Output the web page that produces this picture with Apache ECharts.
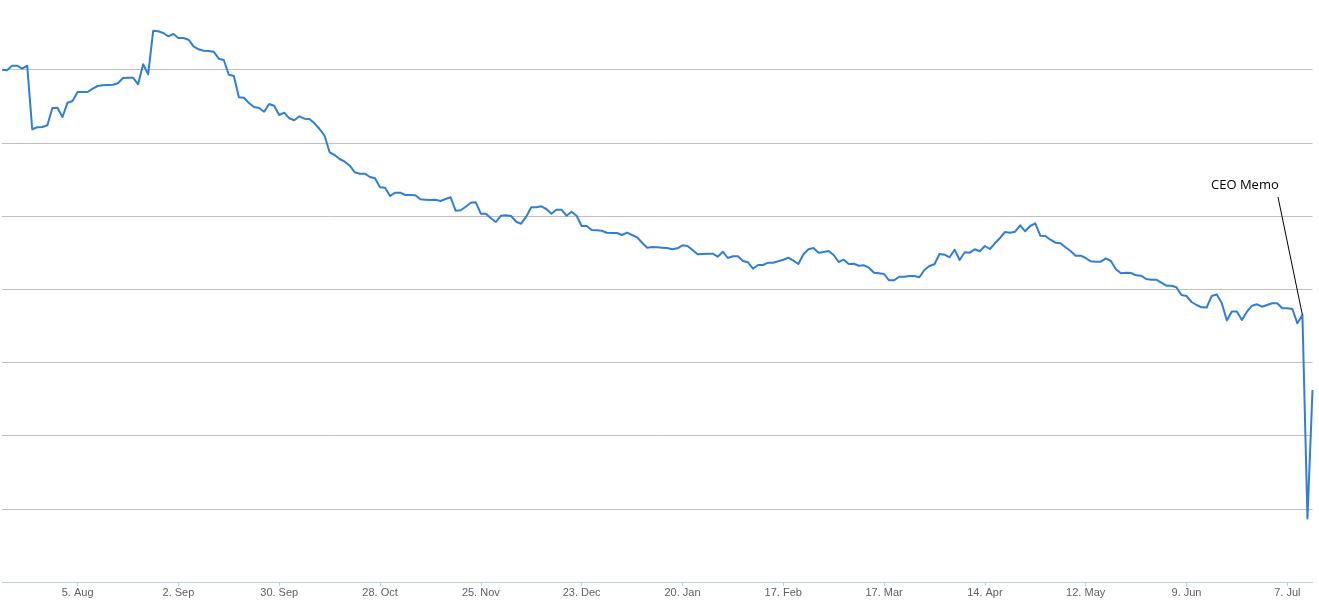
<!DOCTYPE html>
<html>
<head>
<meta charset="utf-8">
<script src="https://cdn.jsdelivr.net/npm/echarts@6/dist/echarts.min.js"></script>
<style>
html,body{margin:0;padding:0;background:#fff;}
#chart{width:1319px;height:603px;}
</style>
</head>
<body>
<div id="chart"></div>
<script>
// Trading days (weekdays) from 15 Jul 2013, evenly spaced (ordinal axis)
const START_DATE = [2013, 6, 15];
const MONTHS = ['Jan','Feb','Mar','Apr','May','Jun','Jul','Aug','Sep','Oct','Nov','Dec'];
const TICK_LABELS = ['5. Aug','2. Sep','30. Sep','28. Oct','25. Nov','23. Dec','20. Jan','17. Feb','17. Mar','14. Apr','12. May','9. Jun','7. Jul'];

// Series values (arbitrary units; the original has no y-axis labels)
const values = [
512.3,511.7,516.3,516.3,513.3,516.3,452.7,454.7,455,456.7,
474,474.3,465,479.3,481,490,490,490,493.3,496,
496.7,497,497.3,498.7,504,504.3,504.3,497.7,517.7,507.7,
551.3,550.7,549,545.7,548,544,544,542.3,535.7,532.7,
531.3,531,530.3,523.3,522,507.3,506,484.7,484.3,479,
475,474,470.3,478,476.3,467,469.3,463.7,461.7,465.7,
463.3,463,458.7,453,446.3,429.7,427,423,420.3,416.3,
409.7,408.3,408.3,405,403.7,394.7,394.3,386,389.3,389.3,
387,387,386.7,382.7,382.3,382,382.3,381,383,384.7,
371.3,371.7,375.3,379.3,379.7,368.3,368.3,363.7,360,366.3,
366.7,366,360.3,358.3,365.3,374.7,374.7,375.7,373,368.3,
372.3,372.3,366.3,370.3,366.3,356,356,352,351.7,351.3,
349.3,349,349,347,349.3,347,344.7,339.3,334.3,335,
334.7,334.3,334,332.7,333.7,336.7,336,332,327.7,328,
328.3,328.3,325.3,330.3,324,325.7,325.7,321,319.7,313.3,
317,317,319.3,319.3,320.7,322.3,324.3,321.3,318,327.7,
332.7,334,329.3,330,331,327,320,322.3,318,318.3,
316.3,316.7,314.3,309.3,308.7,308,301.7,301.7,305.3,305.3,
306,306,304.7,312,316,317.7,328,327.3,324.7,332.3,
322,329.7,329.3,332.7,330.7,336,333,338.7,344,350,
349.3,350.3,356.7,350.7,356,358.7,346.3,346,342.3,339.3,
338.7,334.7,331,326.3,326.3,324,320.7,320.3,320.3,323.7,
321,312.7,308.7,309.3,309,306.7,306.3,303,302.3,302.3,
299.3,296.3,296.3,294.7,287,286,280,277,274.7,274.5,
286,287.5,279,261.5,270.5,270.5,262,270.3,276.3,277.7,
275.3,277,278.7,278.7,273.7,273.7,273,258.7,267,63.5,
192
];

const ANNOTATION_TEXT = 'CEO Memo';
const ANNOTATION_INDEX = 258; // 10 Jul 2014

const categories = [];
{
  const d = new Date(Date.UTC(START_DATE[0], START_DATE[1], START_DATE[2]));
  while (categories.length < values.length) {
    const wd = d.getUTCDay();
    if (wd !== 0 && wd !== 6) categories.push(d.getUTCDate() + '. ' + MONTHS[d.getUTCMonth()]);
    d.setUTCDate(d.getUTCDate() + 1);
  }
}
const showTick = (i, v) => TICK_LABELS.indexOf(categories[i]) >= 0;

const chart = echarts.init(document.getElementById('chart'), null, {renderer: 'canvas'});
chart.setOption({
  animation: false,
  backgroundColor: '#ffffff',
  grid: {left: 2, right: 6.5, top: 0, bottom: 21, containLabel: false},
  xAxis: {
    type: 'category',
    data: categories,
    boundaryGap: false,
    z: 3,
    axisLine: {show: true, lineStyle: {color: '#C0D0E0', width: 1}},
    axisTick: {show: true, interval: showTick, length: 4, lineStyle: {color: '#C0D0E0'}},
    axisLabel: {interval: showTick, color: '#606060', fontSize: 11, fontFamily: '"Liberation Sans", Arial, sans-serif', margin: 5},
    splitLine: {show: false}
  },
  yAxis: {
    type: 'value',
    min: 0,
    max: 582,
    interval: 73.2,
    axisLine: {show: false},
    axisTick: {show: false},
    axisLabel: {show: false},
    splitLine: {show: true, showMaxLine: false, lineStyle: {color: '#C0C0C0', width: 1}}
  },
  series: [{
    type: 'line',
    data: values,
    showSymbol: false,
    smooth: false,
    clip: false,
    lineStyle: {color: '#2f7ed8', width: 2, join: 'round'},
    itemStyle: {color: '#2f7ed8'},
    markLine: {
      silent: true,
      symbol: ['none', 'none'],
      label: {show: false},
      lineStyle: {color: '#000000', width: 1, type: 'solid'},
      data: [[
        {coord: [ANNOTATION_INDEX, values[ANNOTATION_INDEX]]},
        {x: 1278, y: 197}
      ]]
    }
  }],
  graphic: [{
    type: 'text',
    left: 1211,
    top: 179,
    style: {text: ANNOTATION_TEXT, fill: '#000000', font: '13px "Open Sans", "Liberation Sans", sans-serif'}
  }]
});
</script>
</body>
</html>
